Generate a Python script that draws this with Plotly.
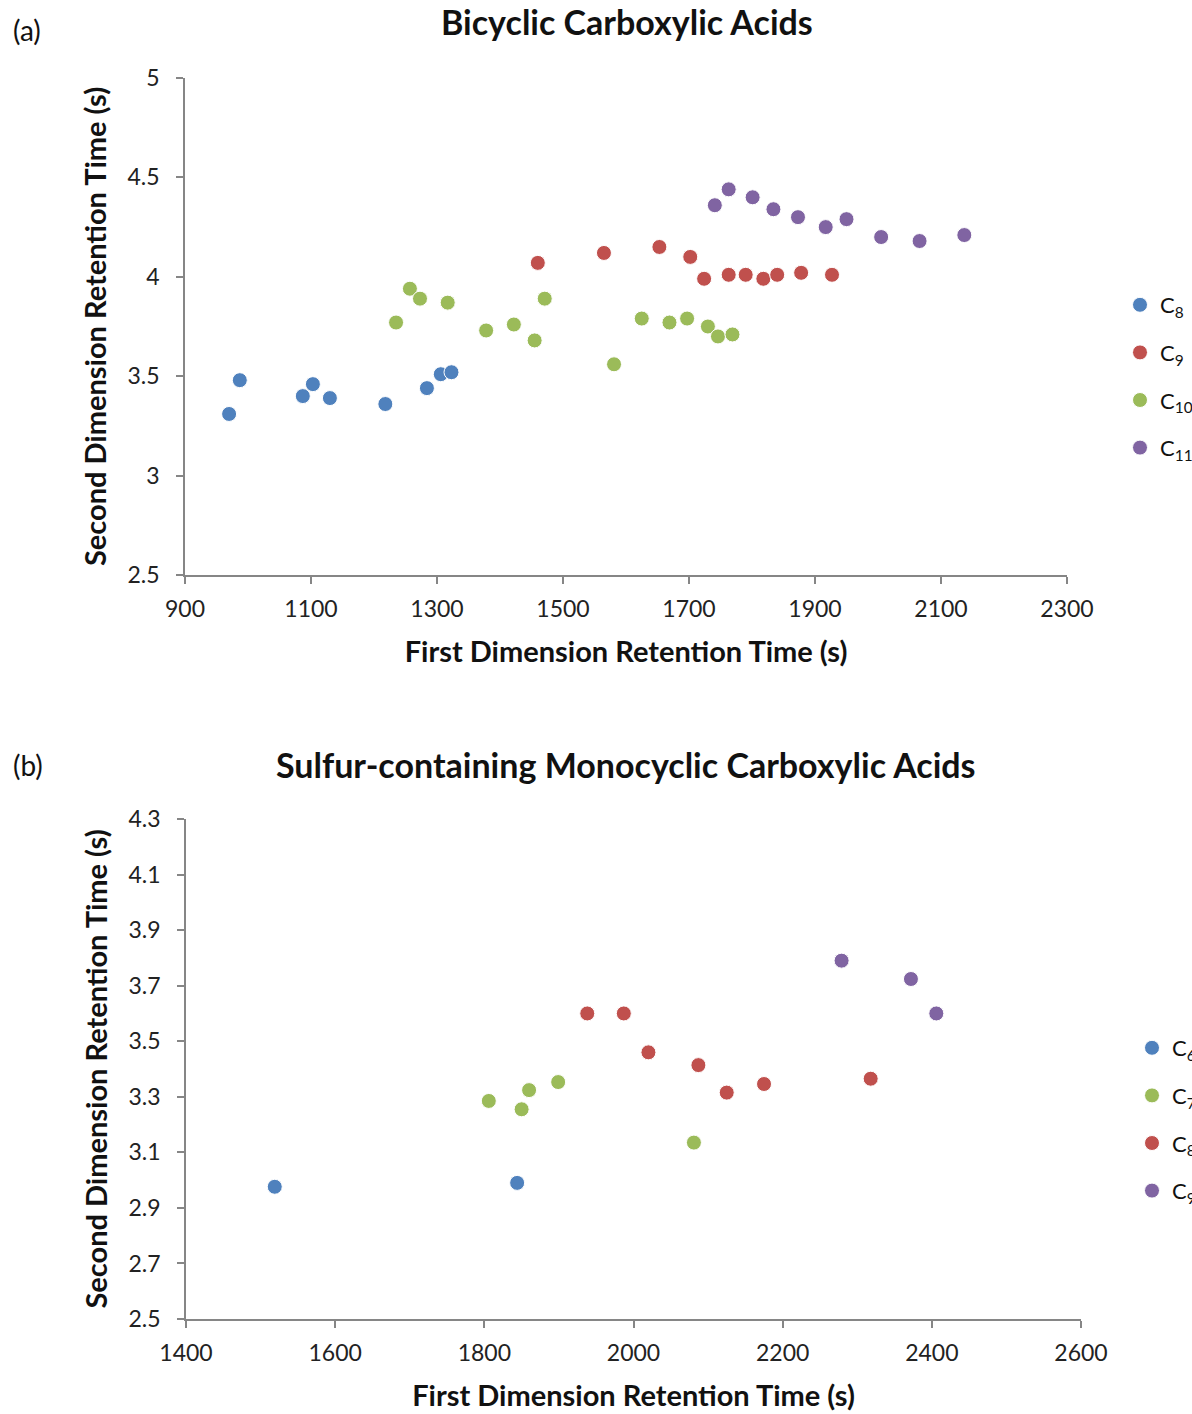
import plotly.graph_objects as go

FONT = "Lato"
COLORS = {"blue": "#4F81BD", "red": "#C0504D", "green": "#9BBB59", "purple": "#8064A2"}

# ---- Panel (a): Bicyclic carboxylic acids ----
a_c8_x = [970, 987, 1087, 1103, 1130, 1218, 1284, 1306, 1323]
a_c8_y = [3.31, 3.48, 3.40, 3.46, 3.39, 3.36, 3.44, 3.51, 3.52]
a_c9_x = [1460, 1565, 1653, 1702, 1724, 1763, 1790, 1818, 1840, 1878, 1927]
a_c9_y = [4.07, 4.12, 4.15, 4.10, 3.99, 4.01, 4.01, 3.99, 4.01, 4.02, 4.01]
a_c10_x = [1235, 1257, 1273, 1317, 1378, 1422, 1455, 1471, 1581, 1625, 1669, 1697, 1730, 1746, 1769]
a_c10_y = [3.77, 3.94, 3.89, 3.87, 3.73, 3.76, 3.68, 3.89, 3.56, 3.79, 3.77, 3.79, 3.75, 3.70, 3.71]
a_c11_x = [1741, 1763, 1801, 1834, 1873, 1917, 1950, 2005, 2066, 2137]
a_c11_y = [4.36, 4.44, 4.40, 4.34, 4.30, 4.25, 4.29, 4.20, 4.18, 4.21]

# ---- Panel (b): Sulfur-containing monocyclic carboxylic acids ----
b_c6_x = [1519, 1844]
b_c6_y = [2.976, 2.99]
b_c7_x = [1806, 1850, 1860, 1899, 2081]
b_c7_y = [3.285, 3.255, 3.324, 3.353, 3.135]
b_c8_x = [1938, 1987, 2020, 2087, 2125, 2175, 2318]
b_c8_y = [3.60, 3.60, 3.46, 3.414, 3.315, 3.346, 3.365]
b_c9_x = [2279, 2372, 2406]
b_c9_y = [3.79, 3.724, 3.60]

a_series = [("C<sub>8</sub>", a_c8_x, a_c8_y, "blue"),
            ("C<sub>9</sub>", a_c9_x, a_c9_y, "red"),
            ("C<sub>10</sub>", a_c10_x, a_c10_y, "green"),
            ("C<sub>11</sub>", a_c11_x, a_c11_y, "purple")]
b_series = [("C<sub>6</sub>", b_c6_x, b_c6_y, "blue"),
            ("C<sub>7</sub>", b_c7_x, b_c7_y, "green"),
            ("C<sub>8</sub>", b_c8_x, b_c8_y, "red"),
            ("C<sub>9</sub>", b_c9_x, b_c9_y, "purple")]

fig = go.Figure()
for i, (name, xs, ys, c) in enumerate(a_series):
    fig.add_trace(go.Scatter(x=xs, y=ys, mode="markers", name=name,
                             marker=dict(size=15, color=COLORS[c], line=dict(color="white", width=1)),
                             xaxis="x", yaxis="y", legend="legend", legendgroup="a%d" % i))
for i, (name, xs, ys, c) in enumerate(b_series):
    fig.add_trace(go.Scatter(x=xs, y=ys, mode="markers", name=name,
                             marker=dict(size=15, color=COLORS[c], line=dict(color="white", width=1)),
                             xaxis="x2", yaxis="y2", legend="legend2", legendgroup="b%d" % i))

W, H = 1192, 1414
axis_common = dict(showline=True, linecolor="#868686", linewidth=1.5, ticks="outside",
                   ticklen=7, tickcolor="#868686", tickwidth=1.5, showgrid=False, zeroline=False,
                   tickfont=dict(family=FONT, size=23, color="#222"))
x_common = dict(ticklabelstandoff=6, **axis_common)
y_common = dict(ticklabelstandoff=12, **axis_common)
title_font = dict(family=FONT, size=29, color="#111", weight="bold")

fig.update_layout(
    width=W, height=H,
    margin=dict(l=0, r=0, t=0, b=0, autoexpand=False),
    paper_bgcolor="white", plot_bgcolor="white",
    font=dict(family=FONT, color="#111"),
    xaxis=dict(domain=[185 / W, 1067 / W], range=[900, 2300], tick0=900, dtick=200,
               anchor="y", title=dict(text="First Dimension Retention Time (s)", font=title_font, standoff=20),
               **x_common),
    yaxis=dict(domain=[1 - 575 / H, 1 - 78 / H], range=[2.5, 5], tick0=2.5, dtick=0.5,
               anchor="x", title=dict(text="Second Dimension Retention Time (s)", font=title_font, standoff=12),
               **y_common),
    xaxis2=dict(domain=[186 / W, 1081 / W], range=[1400, 2600], tick0=1400, dtick=200,
                anchor="y2", title=dict(text="First Dimension Retention Time (s)", font=title_font, standoff=20),
                **x_common),
    yaxis2=dict(domain=[1 - 1319 / H, 1 - 819 / H], range=[2.5, 4.3], tick0=2.5, dtick=0.2,
                anchor="x2", title=dict(text="Second Dimension Retention Time (s)", font=title_font, standoff=12),
                **y_common),
    legend=dict(x=1120 / W, y=1 - 284 / H, xanchor="left", yanchor="top",
                font=dict(family=FONT, size=22, color="#111"), tracegroupgap=16,
                itemwidth=30, bgcolor="rgba(0,0,0,0)"),
    legend2=dict(x=1132 / W, y=1 - 1027 / H, xanchor="left", yanchor="top",
                 font=dict(family=FONT, size=22, color="#111"), tracegroupgap=16,
                 itemwidth=30, bgcolor="rgba(0,0,0,0)"),
    annotations=[
        dict(text="<b>Bicyclic Carboxylic Acids</b>", x=627 / W, y=1 - 22 / H, xref="paper", yref="paper",
             showarrow=False, xanchor="center", yanchor="middle", font=dict(family=FONT, size=34, color="#111")),
        dict(text="<b>Sulfur-containing Monocyclic Carboxylic Acids</b>", x=626 / W, y=1 - 764 / H,
             xref="paper", yref="paper", showarrow=False, xanchor="center", yanchor="middle",
             font=dict(family=FONT, size=34, color="#111")),
        dict(text="(a)", x=11 / W, y=1 - 30 / H, xref="paper", yref="paper", showarrow=False,
             xanchor="left", yanchor="middle", font=dict(family=FONT, size=28, color="#111")),
        dict(text="(b)", x=11 / W, y=1 - 765 / H, xref="paper", yref="paper", showarrow=False,
             xanchor="left", yanchor="middle", font=dict(family=FONT, size=28, color="#111")),
    ],
)

fig.write_html("out.html")
